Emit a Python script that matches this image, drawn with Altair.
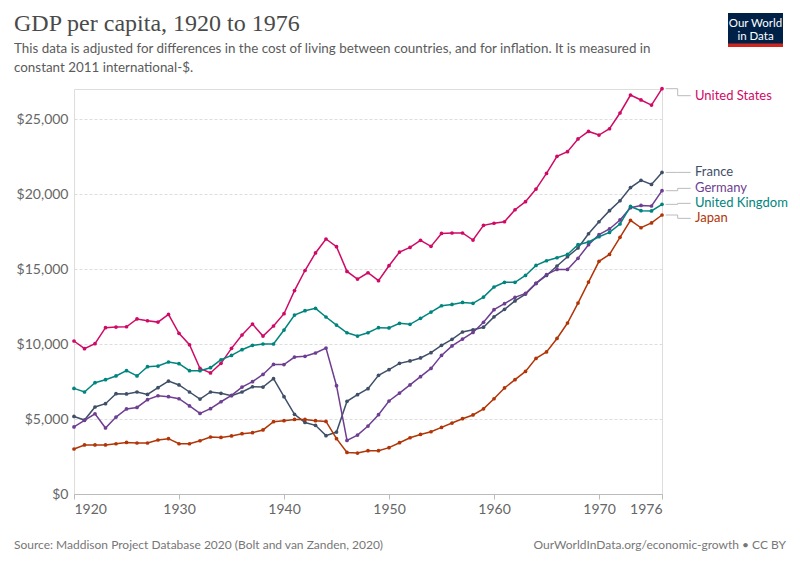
import altair as alt
import pandas as pd

years = list(range(1920, 1977))
countries = ["United States", "France", "Germany", "United Kingdom", "Japan"]
colors = ["#cf0a66", "#3f4f68", "#6d3e91", "#00847e", "#b13507"]

us = [10.2, 9.69, 10.02, 11.09, 11.13, 11.15, 11.67, 11.55, 11.46, 11.97,
      10.71, 9.95, 8.37, 8.07, 8.71, 9.71, 10.6, 11.33, 10.53, 11.2,
      12.02, 13.56, 14.9, 16.07, 17.0, 16.49, 14.84, 14.33, 14.75, 14.22,
      15.22, 16.13, 16.44, 16.91, 16.51, 17.37, 17.4, 17.4, 16.93, 17.91,
      18.05, 18.15, 18.95, 19.49, 20.33, 21.37, 22.51, 22.82, 23.67, 24.17,
      23.93, 24.35, 25.4, 26.6, 26.27, 25.93, 27.02]
france = [5.17, 4.93, 5.8, 6.02, 6.69, 6.67, 6.8, 6.64, 7.09, 7.53,
          7.27, 6.8, 6.33, 6.8, 6.71, 6.55, 6.8, 7.15, 7.13, 7.69,
          6.49, 5.31, 4.77, 4.58, 3.89, 4.13, 6.18, 6.62, 7.02, 7.91,
          8.29, 8.71, 8.87, 9.07, 9.42, 9.91, 10.31, 10.8, 10.95, 11.12,
          11.81, 12.31, 12.87, 13.33, 14.04, 14.57, 15.2, 15.82, 16.4, 17.35,
          18.15, 18.89, 19.55, 20.43, 20.91, 20.64, 21.44]
germany = [4.47, 4.91, 5.35, 4.4, 5.13, 5.67, 5.77, 6.29, 6.55, 6.49,
           6.35, 5.87, 5.37, 5.69, 6.15, 6.57, 7.13, 7.49, 7.97, 8.64,
           8.63, 9.13, 9.18, 9.4, 9.73, 7.22, 3.57, 3.93, 4.53, 5.29,
           6.2, 6.73, 7.27, 7.82, 8.37, 9.24, 9.87, 10.33, 10.77, 11.45,
           12.29, 12.69, 13.11, 13.37, 14.04, 14.62, 14.97, 14.97, 15.71, 16.62,
           17.29, 17.67, 18.27, 19.09, 19.24, 19.2, 20.22]
uk = [7.04, 6.8, 7.42, 7.62, 7.87, 8.22, 7.87, 8.49, 8.53, 8.8,
      8.69, 8.22, 8.22, 8.42, 8.95, 9.24, 9.62, 9.91, 10.0, 10.0,
      10.93, 11.93, 12.22, 12.38, 11.8, 11.26, 10.75, 10.53, 10.75, 11.09,
      11.07, 11.38, 11.31, 11.71, 12.13, 12.55, 12.64, 12.77, 12.71, 13.13,
      13.8, 14.11, 14.11, 14.57, 15.24, 15.55, 15.75, 15.97, 16.62, 16.8,
      17.15, 17.44, 18.0, 19.17, 18.89, 18.87, 19.31]
japan = [3.0, 3.27, 3.27, 3.27, 3.35, 3.44, 3.4, 3.4, 3.6, 3.69,
         3.35, 3.35, 3.55, 3.8, 3.77, 3.87, 4.02, 4.09, 4.27, 4.82,
         4.89, 4.97, 4.97, 4.89, 4.84, 3.69, 2.77, 2.73, 2.89, 2.89,
         3.09, 3.42, 3.75, 3.97, 4.15, 4.44, 4.73, 5.02, 5.27, 5.68,
         6.35, 7.07, 7.62, 8.17, 9.04, 9.47, 10.37, 11.4, 12.73, 14.13,
         15.51, 15.97, 17.11, 18.24, 17.75, 18.07, 18.6]

x_ticks = [1920, 1930, 1940, 1950, 1960, 1970, 1976]
y_ticks = [0, 5000, 10000, 15000, 20000, 25000]

title = "GDP per capita, 1920 to 1976"
subtitle = ["This data is adjusted for differences in the cost of living between countries, and for inflation. It is measured in",
            "constant 2011 international-$."]
source = "Source: Maddison Project Database 2020 (Bolt and van Zanden, 2020)"
footer_right = "OurWorldInData.org/economic-growth • CC BY"

W, H = 588, 405
Y_MAX = 27000
px_per_year = W / (years[-1] - years[0])
px_per_unit = H / Y_MAX

series = {"United States": us, "France": france, "Germany": germany,
          "United Kingdom": uk, "Japan": japan}
rows = []
for c in countries:
    for yr, v in zip(years, series[c]):
        rows.append({"country": c, "year": yr, "value": v * 1000})
df = pd.DataFrame(rows)

# end-label placement (simple collision avoidance in data units)
ends = {c: series[c][-1] * 1000 for c in countries}
gap = 15 / px_per_unit
lab = dict(ends)
for c in lab:
    lab[c] = min(lab[c], Y_MAX - 6.7 / px_per_unit)
order = sorted(countries, key=lambda c: lab[c])
for _ in range(200):
    for a, b in zip(order[:-1], order[1:]):
        d = lab[b] - lab[a]
        if d < gap:
            s = (gap - d) / 2
            lab[a] -= s
            lab[b] += s

last = years[-1]
conn_rows = []
for c in countries:
    pts = [(last + 3.7 / px_per_year, ends[c]), (last + 15.7 / px_per_year, ends[c]),
           (last + 15.7 / px_per_year, lab[c]), (last + 28.7 / px_per_year, lab[c])]
    for i, (xx, yy) in enumerate(pts):
        conn_rows.append({"country": c, "year": xx, "value": yy, "o": i})
conn_df = pd.DataFrame(conn_rows)
lab_df = pd.DataFrame({"country": countries, "year": [last] * len(countries),
                       "value": [lab[c] for c in countries]})

color = alt.Color("country:N", scale=alt.Scale(domain=countries, range=colors), legend=None)
xenc = alt.X("year:Q", scale=alt.Scale(domain=[1920, 1976], nice=False, zero=False),
             axis=alt.Axis(values=x_ticks, format="d", title=None, grid=False,
                           labelFlush=True, labelFontSize=14, labelColor="#666",
                           labelFont="Lato", domainColor="#bbb", tickColor="#bbb",
                           tickSize=5, labelPadding=3))
yenc = alt.Y("value:Q", scale=alt.Scale(domain=[0, Y_MAX], nice=False),
             axis=alt.Axis(values=y_ticks, format="$,.0f", title=None, grid=True,
                           gridDash=[3, 2], gridColor="#ddd", domain=False, ticks=False,
                           labelFontSize=14, labelColor="#666", labelFont="Lato",
                           labelPadding=6))

base = alt.Chart(df)
lines = base.mark_line(strokeWidth=1.5).encode(x=xenc, y=yenc, color=color)
pts = base.mark_circle(size=14, opacity=1).encode(x="year:Q", y="value:Q", color=color)
conn = alt.Chart(conn_df).mark_line(strokeWidth=1, color="#bbb", clip=False).encode(
    x="year:Q", y="value:Q", detail="country:N", order="o:Q")
labels = alt.Chart(lab_df).mark_text(align="left", baseline="middle", dx=33,
                                     fontSize=13, font="Lato").encode(
    x="year:Q", y="value:Q", text="country:N", color=color)

one = pd.DataFrame({"a": [0]})


def txt(text, x, y, size, colr, align="left", font="Lato", baseline="alphabetic"):
    return alt.Chart(one).mark_text(text=text, align=align, baseline=baseline,
                                    fontSize=size, font=font, color=colr).encode(
        x=alt.value(x), y=alt.value(y))


# page coordinates -> plot coordinates: plot origin at page (74, 89)
OX, OY = 74, 89
t_title = txt(title, 14 - OX, 31 - OY, 24, "#4a4a4a", font="Liberation Serif")
t_sub1 = txt(subtitle[0], 14 - OX, 53 - OY, 13.4, "#5b5b5b")
t_sub2 = txt(subtitle[1], 14 - OX, 72 - OY, 13.4, "#5b5b5b")
foot_l = txt(source, 14 - OX, 545 - OY, 12, "#777", baseline="middle")
foot_r = txt(footer_right, 786 - OX, 545 - OY, 12, "#777", align="right", baseline="middle")
logo = alt.Chart(one).mark_rect(color="#002147").encode(
    x=alt.value(728 - OX), x2=alt.value(783 - OX), y=alt.value(13 - OY), y2=alt.value(47 - OY))
logo_bar = alt.Chart(one).mark_rect(color="#ce261e").encode(
    x=alt.value(728 - OX), x2=alt.value(783 - OX), y=alt.value(43.5 - OY), y2=alt.value(47 - OY))
logo_t1 = txt("Our World", 755.5 - OX, 23.5 - OY, 11.5, "white", align="center", baseline="middle")
logo_t2 = txt("in Data", 755.5 - OX, 36.5 - OY, 11.5, "white", align="center", baseline="middle")

chart = alt.layer(lines, pts, conn, labels, t_title, t_sub1, t_sub2, foot_l, foot_r,
                  logo, logo_bar, logo_t1, logo_t2).properties(
    width=W, height=H,
    padding={"left": OX - 8, "top": OY - 8, "right": 128, "bottom": 60},
    autosize=alt.AutoSizeParams(type="none"),
).configure_view(stroke=None).configure(background="white")

chart.save("out.html", embed_options={"renderer": "svg", "actions": False})
